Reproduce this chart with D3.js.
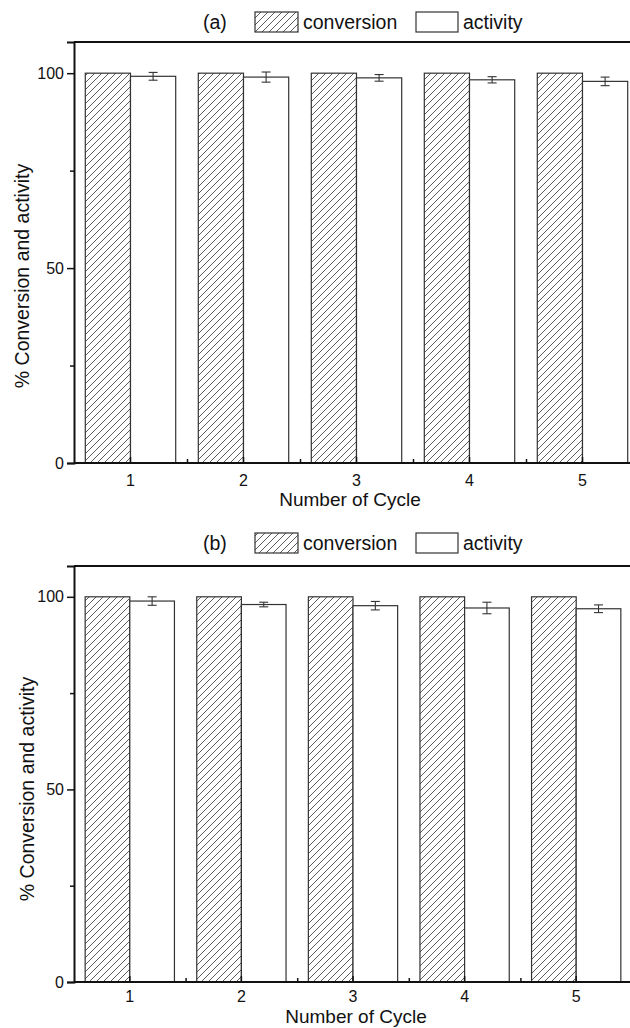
<!DOCTYPE html>
<html>
<head>
<meta charset="utf-8">
<script src="https://cdn.jsdelivr.net/npm/d3@7"></script>
<style>
  body { margin: 0; background: #fff; }
  svg { display: block; font-family: "Liberation Sans", Arial, sans-serif; }
</style>
</head>
<body>
<div id="wrapper"></div>
<script>
// data
const cycles = ["1", "2", "3", "4", "5"]
const series = ["conversion", "activity"]

const conversionA = [100, 100, 100, 100, 100]
const activityA = [99.2, 99.0, 98.8, 98.3, 97.9]
const activityErrA = [1.0, 1.3, 0.85, 0.8, 1.1]

const conversionB = [100, 100, 100, 100, 100]
const activityB = [98.9, 98.0, 97.7, 97.1, 96.9]
const activityErrB = [1.1, 0.6, 1.1, 1.5, 1.0]

const yMajorTicks = [0, 50, 100]
const yMinorTicks = [25, 75]
const xMinorTicks = [1.5, 2.5, 3.5, 4.5]

const width = 630
const height = 1028

const svg = d3.select("#wrapper")
    .append("svg")
    .attr("width", width)
    .attr("height", height)

// hatch for the conversion bars
const defs = svg.append("defs")
const hatch = defs.append("pattern")
    .attr("id", "hatch")
    .attr("patternUnits", "userSpaceOnUse")
    .attr("width", 7)
    .attr("height", 7)
hatch.append("path")
    .attr("d", "M-1,1 l2,-2 M0,7 l7,-7 M6,8 l2,-2")
    .attr("stroke", "#333")
    .attr("stroke-width", 0.8)

function drawPanel(p) {

    const yScale = d3.scaleLinear()
        .domain([0, 108])
        .range([p.y0, p.yTop])

    const xScale = d3.scaleBand()
        .domain(cycles)
        .range([p.x0, p.x1])
        .paddingInner(0.2)
        .paddingOuter(0.1)

    const subScale = d3.scaleBand()
        .domain(series)
        .range([0, xScale.bandwidth()])

    // linear twin of the band scale, for the in-between ticks
    const xLin = d3.scaleLinear()
        .domain([0.5, 5.5])
        .range([p.x0, p.x1])

    const g = svg.append("g")

    // bars
    const rows = cycles.map((c, i) => ({
        cycle: c,
        conversion: p.conversion[i],
        activity: p.activity[i],
        err: p.err[i],
    }))

    g.selectAll(".conv")
        .data(rows)
        .join("rect")
        .attr("x", d => xScale(d.cycle) + subScale("conversion"))
        .attr("y", d => yScale(d.conversion))
        .attr("width", subScale.bandwidth())
        .attr("height", d => yScale(0) - yScale(d.conversion))
        .attr("fill", "url(#hatch)")
        .attr("stroke", "#333")
        .attr("stroke-width", 1.2)

    g.selectAll(".act")
        .data(rows)
        .join("rect")
        .attr("x", d => xScale(d.cycle) + subScale("activity"))
        .attr("y", d => yScale(d.activity))
        .attr("width", subScale.bandwidth())
        .attr("height", d => yScale(0) - yScale(d.activity))
        .attr("fill", "#fff")
        .attr("stroke", "#333")
        .attr("stroke-width", 1.2)

    // error bars
    const errG = g.selectAll(".err")
        .data(rows)
        .join("g")
        .attr("stroke", "#333")
        .attr("stroke-width", 1.1)
    const cx = d => xScale(d.cycle) + subScale("activity") + subScale.bandwidth() / 2
    errG.append("line")
        .attr("x1", cx).attr("x2", cx)
        .attr("y1", d => yScale(d.activity + d.err))
        .attr("y2", d => yScale(d.activity - d.err))
    errG.append("line")
        .attr("x1", d => cx(d) - 4.5).attr("x2", d => cx(d) + 4.5)
        .attr("y1", d => yScale(d.activity + d.err))
        .attr("y2", d => yScale(d.activity + d.err))
    errG.append("line")
        .attr("x1", d => cx(d) - 4.5).attr("x2", d => cx(d) + 4.5)
        .attr("y1", d => yScale(d.activity - d.err))
        .attr("y2", d => yScale(d.activity - d.err))

    // frame top
    g.append("line")
        .attr("x1", p.x0).attr("x2", p.x1 + 20)
        .attr("y1", p.yTop).attr("y2", p.yTop)
        .attr("stroke", "#111")
        .attr("stroke-width", 2)

    // y axis
    const yAxis = g.append("g")
        .attr("transform", `translate(${p.x0},0)`)
        .call(d3.axisLeft(yScale).tickValues(yMajorTicks).tickSize(7).tickPadding(3))
    yAxis.append("g")
        .call(d3.axisLeft(yScale).tickValues(yMinorTicks).tickSize(4).tickFormat(""))
        .select(".domain").remove()
    yAxis.selectAll("text")
        .attr("font-size", 16)
        .attr("font-family", "Liberation Sans, Arial, sans-serif")
        .attr("fill", "#111")

    // x axis, ticks pointing in
    const xAxis = g.append("g")
        .attr("transform", `translate(0,${p.y0})`)
        .call(d3.axisBottom(xScale).tickSizeInner(-6).tickSizeOuter(0).tickPadding(p.xPad))
    xAxis.append("g")
        .call(d3.axisBottom(xLin).tickValues(xMinorTicks).tickSize(-4).tickFormat(""))
        .select(".domain").remove()
    xAxis.select(".domain").attr("d", `M${p.x0},0H${p.x1 + 20}`)
    xAxis.selectAll("text")
        .attr("font-size", 16)
        .attr("font-family", "Liberation Sans, Arial, sans-serif")
        .attr("fill", "#111")

    g.selectAll(".domain")
        .attr("stroke", "#111")
        .attr("stroke-width", 2)
    g.selectAll(".tick line")
        .attr("stroke", "#111")
        .attr("stroke-width", 1.5)

    // titles
    g.append("text")
        .attr("x", p.xTitleX)
        .attr("y", p.xTitleY)
        .attr("text-anchor", "middle")
        .attr("font-size", 19)
        .attr("fill", "#111")
        .text("Number of Cycle")

    g.append("text")
        .attr("transform", `translate(${p.yTitleX},${p.yTitleY}) rotate(-90)`)
        .attr("text-anchor", "middle")
        .attr("font-size", 19.5)
        .attr("fill", "#111")
        .text("% Conversion and activity")

    // legend
    const lg = g.append("g").attr("font-size", 19.5).attr("fill", "#111")
    lg.append("text")
        .attr("x", 203).attr("y", p.legY + 17)
        .text(p.label)
    lg.append("rect")
        .attr("x", 255).attr("y", p.legY)
        .attr("width", 43).attr("height", 20)
        .attr("fill", "url(#hatch)")
        .attr("stroke", "#333")
        .attr("stroke-width", 1.2)
    lg.append("text")
        .attr("x", 303).attr("y", p.legY + 17)
        .text("conversion")
    lg.append("rect")
        .attr("x", 416).attr("y", p.legY)
        .attr("width", 42).attr("height", 20)
        .attr("fill", "#fff")
        .attr("stroke", "#333")
        .attr("stroke-width", 1.2)
    lg.append("text")
        .attr("x", 463).attr("y", p.legY + 17)
        .text("activity")
}

drawPanel({
    label: "(a)",
    conversion: conversionA, activity: activityA, err: activityErrA,
    x0: 74, x1: 639, y0: 463, yTop: 42, xPad: 12,
    xTitleX: 350, xTitleY: 506,
    yTitleX: 29, yTitleY: 276,
    legY: 12,
})

drawPanel({
    label: "(b)",
    conversion: conversionB, activity: activityB, err: activityErrB,
    x0: 74, x1: 632, y0: 982, yTop: 566, xPad: 9,
    xTitleX: 356, xTitleY: 1023,
    yTitleX: 34, yTitleY: 789,
    legY: 533,
})
</script>
</body>
</html>
